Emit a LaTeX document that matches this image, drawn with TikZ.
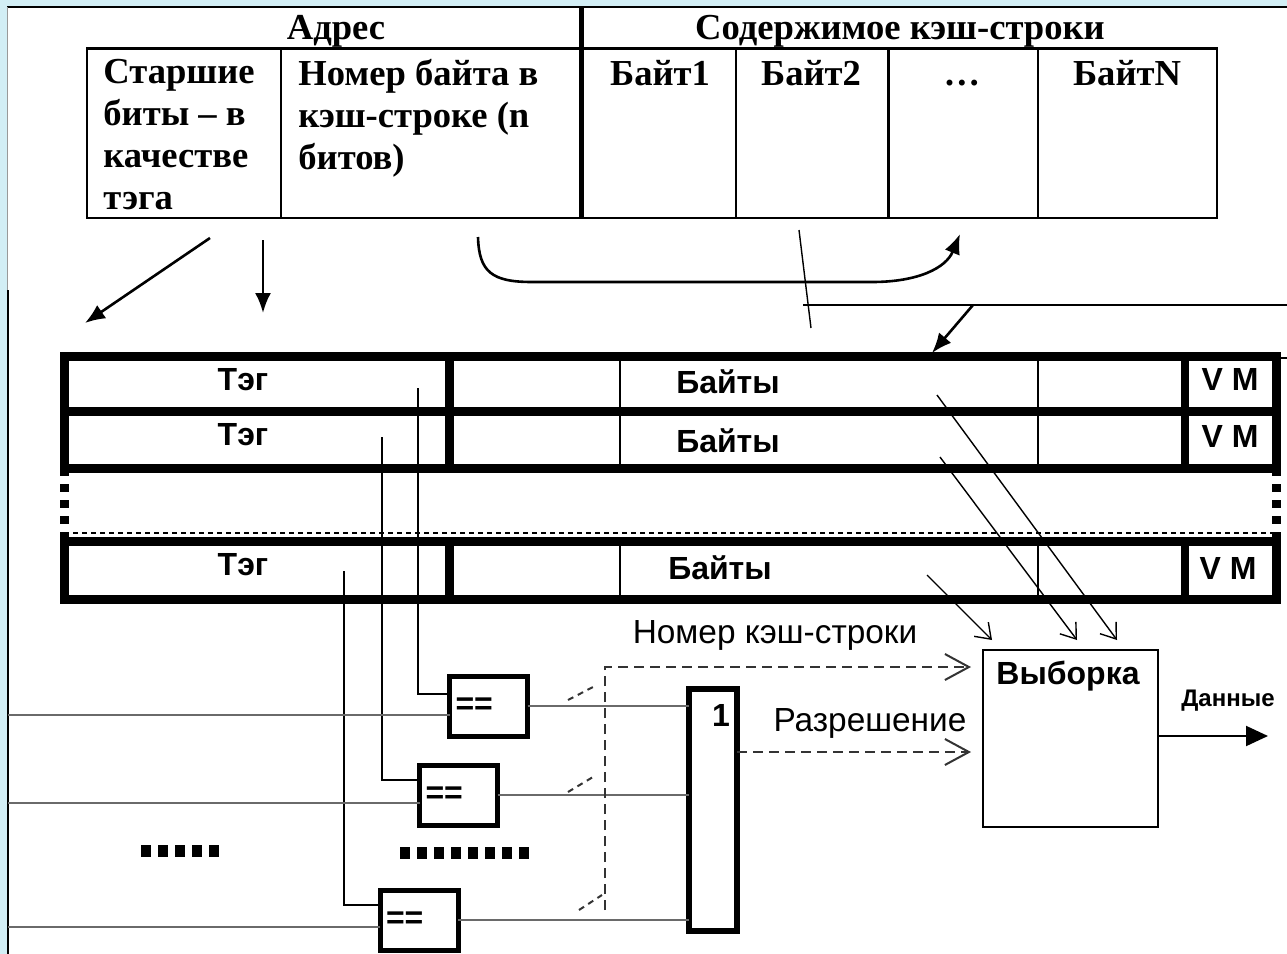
\documentclass[tikz,border=0pt]{standalone}
\usepackage{fontspec}
\setmainfont{Liberation Serif}
\newfontfamily\arialf{Liberation Sans}
\usetikzlibrary{arrows.meta,calc}
\definecolor{bgcyan}{HTML}{D2EEF5}
\definecolor{wiregray}{HTML}{6A6A6A}
\begin{document}
\begin{tikzpicture}[x=0.5pt,y=-0.5pt,
  cellbox/.style={draw,line width=1pt,rectangle,inner sep=0pt,outer sep=0pt,minimum height=85pt},
  serifb/.style={font=\fontsize{18.3}{21}\selectfont\bfseries,inner sep=0pt},
  sansb/.style={font=\arialf\bfseries\fontsize{16}{19}\selectfont,inner sep=0pt},
  sansr/.style={font=\arialf\fontsize{16.7}{19}\selectfont,inner sep=0pt},
  rowbox/.style={draw,line width=4.5pt,rectangle,inner sep=0pt,outer sep=0pt,minimum width=606pt},
  cmpbox/.style={draw,line width=2.5pt,rectangle,inner xsep=3pt,inner ysep=0pt,outer sep=0pt,
     text width=33pt,minimum height=30pt,align=left,font=\arialf\bfseries\fontsize{16}{18}\selectfont},
  orbox/.style={draw,line width=3pt,rectangle,inner sep=0pt,outer sep=0pt,minimum width=24pt,minimum height=121pt},
  selbox/.style={draw,line width=1pt,rectangle,inner sep=0pt,outer sep=0pt,minimum width=87.5pt,minimum height=88.5pt},
  bigarrow/.style={line width=1.3pt,-{Latex[length=10pt,width=8pt]}},
  thinline/.style={line width=0.7pt},
  wire/.style={line width=0.8pt},
  graywire/.style={line width=1pt,draw=wiregray},
  dasharrow/.style={line width=1pt,draw=black!80,dash pattern=on 5pt off 3pt,-{Straight Barb[length=12pt,width=13pt]}},
  dashseg/.style={line width=1pt,draw=black!80,dash pattern=on 3pt off 2.5pt},
  openarrow/.style={line width=0.7pt,-{Straight Barb[length=7pt,width=10pt]}},
  dataarrow/.style={line width=1pt,-{Triangle[length=11pt,width=10pt]}},
  dotrun/.style={line width=6pt,dash pattern=on 5pt off 3.5pt},
  dotside/.style={line width=4.5pt,dash pattern=on 4pt off 4pt}
]
\useasboundingbox (0,0) rectangle (1287,954);
% slide background and frame
\fill[bgcyan] (0,0) rectangle (1287,954);
\fill[white] (7,7) rectangle (1287,954);
\draw[line width=0.75pt] (7,7) -- (1287,7);
\draw[line width=0.5pt,black!40] (7.5,7) -- (7.5,290);
\draw[line width=1.2pt] (8,290) -- (8,954);

% ---------- address / cache line table ----------
\node[cellbox,minimum width=97pt]   (a1) at (184,133) {};
\node[cellbox,minimum width=150pt]  (a2) at (431,133) {};
\node[cellbox,minimum width=77.5pt] (a3) at (658.5,133) {};
\node[cellbox,minimum width=76pt]   (a4) at (812,133) {};
\node[cellbox,minimum width=75pt]   (a5) at (963,133) {};
\node[cellbox,minimum width=89.5pt] (a6) at (1127.5,133) {};
\draw[line width=1.5pt] (a1.north west) -- (a6.north east);
\draw[line width=1.5pt] (a5.north west) -- (a5.south west);
\coordinate (sep) at (581,8);
\draw[line width=2.5pt] (sep) -- (a3.south west);

\node[serifb,anchor=base] (hdr1) at (336,39) {Адрес};
\node[serifb,anchor=base] (hdr2) at (900,39) {Содержимое кэш-строки};
\node[serifb,anchor=north west,align=left] (txa1) at (103,59) {Старшие\\биты – в\\качестве\\тэга};
\node[serifb,anchor=north west,align=left] (txa2) at (298,59) {Номер байта в\\кэш-строке (n\\битов)};
\node[serifb,anchor=base] (txa3) at (660,85) {Байт1};
\node[serifb,anchor=base] (txa4) at (811,85) {Байт2};
\node[serifb,anchor=base] (txa5) at (962,85) {…};
\node[serifb,anchor=base] (txa6) at (1127,85) {БайтN};

% arrows under the table
\coordinate (s1) at (210,238); \coordinate (e1) at (85,323);
\draw[bigarrow] (s1) -- (e1);
\coordinate (s2) at (263,240); \coordinate (e2) at (263,313);
\draw[bigarrow] (s2) -- (e2);
\coordinate (s3) at (478,237); \coordinate (e3) at (960,234);
\draw[bigarrow] (s3) .. controls (479,272) and (492,282) .. (532,282) -- (872,282)
   .. controls (918,282) and (946,268) .. (e3);
\coordinate (m1) at (799,230); \coordinate (m2) at (811,328);
\draw[thinline] (m1) -- (m2);
\coordinate (h1) at (803,305); \coordinate (h2) at (1287,305);
\draw[thinline] (h1) -- (h2);

% ---------- cache rows ----------
\node[rowbox,minimum height=27.5pt] (r1) at (670,383.5) {};
\node[rowbox,minimum height=28.5pt] (r2) at (670,439.5) {};
\node[rowbox,minimum height=29pt]   (r3) at (670,570) {};
\foreach \r in {r1,r2,r3}{
  \draw[line width=4.5pt] ($(\r.north west)+(385,0)$) -- ($(\r.south west)+(385,0)$);
  \draw[line width=1pt]   ($(\r.north west)+(556,0)$) -- ($(\r.south west)+(556,0)$);
  \draw[line width=1pt]   ($(\r.north west)+(974,0)$) -- ($(\r.south west)+(974,0)$);
  \draw[line width=4pt]   ($(\r.north west)+(1121,0)$) -- ($(\r.south west)+(1121,0)$);
}
\draw[dotside] (r2.south west) -- (r3.north west);
\draw[dotside] (r2.south east) -- (r3.north east);
\draw[line width=0.8pt,dash pattern=on 2.5pt off 2pt] ($(r3.north west)+(0,-8)$) -- ($(r3.north east)+(0,-8)$);
\draw[line width=0.6pt] ($(r1.north east)+(4,2)$) -- ($(r1.north east)+(11,2)$);

\coordinate (s4) at (973,305);
\draw[bigarrow] (s4) -- ($(r1.north west)+(868,-3)$);

\node[sansb,anchor=base] (tg1) at (243,390) {Тэг};
\node[sansb,anchor=base] (tg2) at (243,445) {Тэг};
\node[sansb,anchor=base] (tg3) at (243,575) {Тэг};
\node[sansb,anchor=base] (by1) at (728,393) {Байты};
\node[sansb,anchor=base] (by2) at (728,452) {Байты};
\node[sansb,anchor=base] (by3) at (720,579) {Байты};
\node[sansb,anchor=base] (vm1) at (1230,390) {V M};
\node[sansb,anchor=base] (vm2) at (1230,447) {V M};
\node[sansb,anchor=base] (vm3) at (1228,579) {V M};

% ---------- comparators ----------
\node[cmpbox] (c1) at (488.5,706) {==};
\node[cmpbox] (c2) at (458.5,795) {==};
\node[cmpbox] (c3) at (419,920) {==};

\coordinate (tl1) at (418,388);
\coordinate (tl2) at (382,437);
\coordinate (tl3) at (344,571);
\draw[wire] (tl1) |- ($(c1.north west)!0.3!(c1.south west)$);
\draw[wire] (tl2) |- ($(c2.north west)!0.25!(c2.south west)$);
\draw[wire] (tl3) |- ($(c3.north west)!0.25!(c3.south west)$);

\coordinate (in1) at (8,715);
\coordinate (in2) at (8,803);
\coordinate (in3) at (8,927);
\draw[graywire] (in1) -- (in1 -| c1.west);
\draw[graywire] (in2) -- (in2 -| c2.west);
\draw[graywire] (in3) -- (in3 -| c3.west);

\coordinate (d1a) at (141,851); \coordinate (d1b) at (219,851);
\draw[dotrun] (d1a) -- (d1b);
\coordinate (d2a) at (400,853); \coordinate (d2b) at (529,853);
\draw[dotrun] (d2a) -- (d2b);

% ---------- OR gate ----------
\node[orbox] (or) at (713,810) {};
\node[sansb,anchor=base] (one) at (721,726) {1};
\draw[graywire] (c1.east) -- (c1.east -| or.west);
\draw[graywire] (c2.east) -- (c2.east -| or.west);
\draw[graywire] (c3.east) -- (c3.east -| or.west);

% ---------- selection ----------
\node[selbox] (sel) at (1070.5,738.5) {};
\node[sansb,anchor=base] (selt) at (1068,684) {Выборка};

\draw[dashseg] (568,700) -- (593,687);
\draw[dashseg] (568,792) -- (593,777);
\draw[dashseg] (579,910) -- (602,895);
\coordinate (n0) at (605,667);
\coordinate (nb) at (605,910);
\draw[dasharrow] (nb) -- (n0) -- ($(sel.west |- n0)+(-12,0)$);
\coordinate (p0) at (740,752);
\draw[dasharrow] (or.east |- p0) -- ($(sel.west |- p0)+(-12,0)$);
\node[sansr,anchor=base] (lnum) at (775,643) {Номер кэш-строки};
\node[sansr,anchor=base] (lres) at (870,731) {Разрешение};

\coordinate (b1) at (937,395);
\coordinate (b2) at (940,457);
\coordinate (b3) at (927,575);
\draw[openarrow] (b1) -- ($(sel.north west)+(134,-10)$);
\draw[openarrow] (b2) -- ($(sel.north west)+(94,-10)$);
\draw[openarrow] (b3) -- ($(sel.north west)+(9,-10)$);

\coordinate (dout) at (1268,736);
\draw[dataarrow] (sel.east |- dout) -- (dout);
\node[font=\arialf\bfseries\fontsize{12}{14}\selectfont,inner sep=0pt,anchor=base] (dat) at (1228,706) {Данные};
\end{tikzpicture}
\end{document}
